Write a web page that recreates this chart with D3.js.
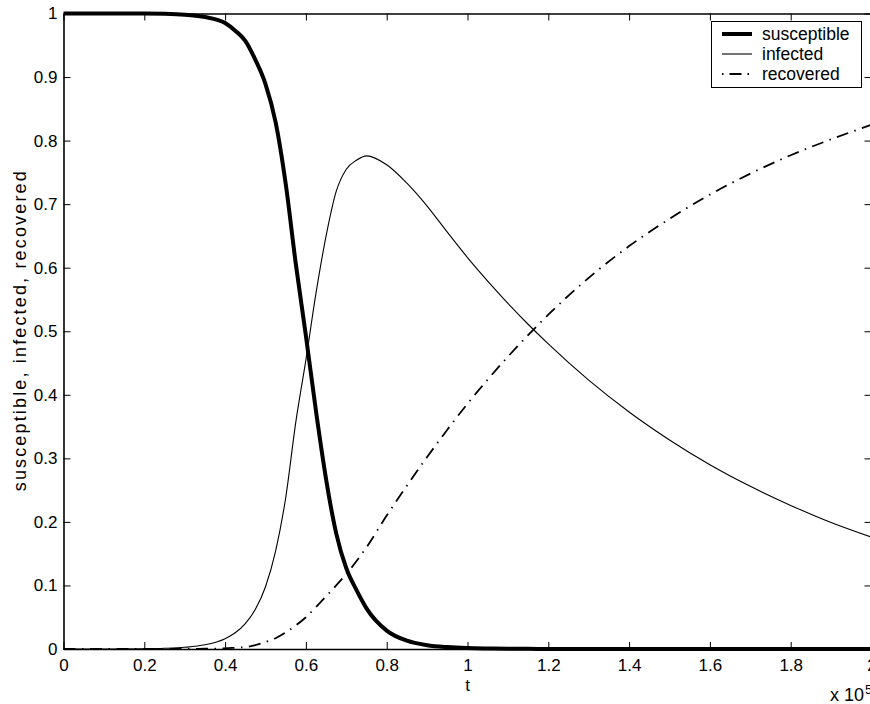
<!DOCTYPE html>
<html>
<head>
<meta charset="utf-8">
<script src="https://cdn.jsdelivr.net/npm/d3@7"></script>
<style>
  body { margin: 0; background: #fff; }
  svg { display: block; }
  text { font-family: "Liberation Sans", Arial, Helvetica, sans-serif; }
</style>
</head>
<body>
<div class="chart"></div>
<script>

// time axis (units of 1e5)
var tValues = [0, 0.1, 0.2, 0.25, 0.3, 0.35, 0.4, 0.425, 0.45, 0.475, 0.5, 0.525, 0.55, 0.575, 0.6, 0.625,
  0.65, 0.675, 0.7, 0.725, 0.75, 0.8, 0.85, 0.9, 0.95, 1.0, 1.05, 1.1, 1.15, 1.2,
  1.3, 1.4, 1.5, 1.6, 1.7, 1.8, 1.9, 2.0];

var susceptible = [1, 1, 1, 0.9995, 0.998, 0.9945, 0.985, 0.973, 0.957, 0.927, 0.889, 0.829, 0.732, 0.606, 0.493, 0.374,
  0.267, 0.182, 0.127, 0.093, 0.064, 0.029, 0.013, 0.006, 0.003, 0.0015, 0.0008, 0.0004, 0.0002, 0.0001,
  0, 0, 0, 0, 0, 0, 0, 0];

var infected = [0, 0, 0.0004, 0.0011, 0.0027, 0.0066, 0.0163, 0.0255, 0.040, 0.0625, 0.098, 0.154, 0.238, 0.357, 0.455, 0.56,
  0.65, 0.72, 0.755, 0.769, 0.776, 0.762, 0.733, 0.697, 0.656, 0.616, 0.579, 0.544, 0.511, 0.48,
  0.423, 0.373, 0.329, 0.29, 0.256, 0.226, 0.199, 0.176];

var recovered = [0, 0, 0, 0, 0.0001, 0.0004, 0.001, 0.002, 0.003, 0.006, 0.011, 0.017, 0.026, 0.037, 0.050, 0.066,
  0.083, 0.10, 0.118, 0.138, 0.16, 0.21, 0.257, 0.302, 0.345, 0.386, 0.424, 0.46, 0.494, 0.526,
  0.584, 0.634, 0.677, 0.715, 0.748, 0.777, 0.802, 0.825];

var xTicks = [0, 0.2, 0.4, 0.6, 0.8, 1.0, 1.2, 1.4, 1.6, 1.8, 2.0];
var xTickLabels = ["0", "0.2", "0.4", "0.6", "0.8", "1", "1.2", "1.4", "1.6", "1.8", "2"];
var yTicks = [0, 0.1, 0.2, 0.3, 0.4, 0.5, 0.6, 0.7, 0.8, 0.9, 1];
var yTickLabels = ["0", "0.1", "0.2", "0.3", "0.4", "0.5", "0.6", "0.7", "0.8", "0.9", "1"];

var seriesNames = ["susceptible", "infected", "recovered"];

var svgWidth = 870;
var svgHeight = 704;

var plot = { left: 63.5, right: 871.5, top: 13.5, bottom: 649 };

var svg = d3.select(".chart")
  .append("svg")
  .attr("width", svgWidth)
  .attr("height", svgHeight);

var xScale = d3.scaleLinear()
  .domain([0, 2e5])
  .range([plot.left, plot.right]);

var yScale = d3.scaleLinear()
  .domain([0, 1])
  .range([plot.bottom, plot.top]);

// build rows for each series
var rows = tValues.map(function(t, i) {
  return { t: t * 1e5, s: susceptible[i], i: infected[i], r: recovered[i] };
});

var styles = {
  susceptible: { key: "s", width: 4, dash: null },
  infected: { key: "i", width: 1.1, dash: null },
  recovered: { key: "r", width: 1.8, dash: "12,6.5,1.5,6.5" }
};

var curves = svg.append("g");

seriesNames.forEach(function(name) {
  var st = styles[name];
  var line = d3.line()
    .x(d => xScale(d.t))
    .y(d => yScale(d[st.key]))
    .curve(d3.curveMonotoneX);

  curves.append("path")
    .datum(rows)
    .attr("d", line)
    .attr("fill", "none")
    .attr("stroke", "#000")
    .attr("stroke-width", st.width)
    .attr("stroke-dasharray", st.dash);
});

// axes: ticks point inward on all four sides
function styleAxis(g) {
  g.select(".domain").attr("stroke", "#000").attr("stroke-width", 1.6);
  g.selectAll(".tick line").attr("stroke", "#000").attr("stroke-width", 1);
  g.selectAll(".tick text")
    .attr("fill", "#000")
    .style("font-size", "17px")
    .style("font-family", "'Liberation Sans', Arial, sans-serif");
}

var xAxis = d3.axisBottom(xScale)
  .tickValues(xTicks.map(d => d * 1e5))
  .tickFormat((d, i) => xTickLabels[i])
  .tickSizeInner(-7).tickSizeOuter(0).tickPadding(10);

var yAxis = d3.axisLeft(yScale)
  .tickValues(yTicks)
  .tickFormat((d, i) => yTickLabels[i])
  .tickSizeInner(-7).tickSizeOuter(0).tickPadding(6);

svg.append("g")
  .attr("transform", `translate(0, ${plot.bottom})`)
  .call(xAxis)
  .call(styleAxis);

svg.append("g")
  .attr("transform", `translate(${plot.left}, 0)`)
  .call(yAxis)
  .call(styleAxis);

svg.append("g")
  .attr("transform", `translate(0, ${plot.top})`)
  .call(d3.axisTop(xScale).tickValues(xTicks.map(d => d * 1e5)).tickFormat("")
    .tickSizeInner(-7).tickSizeOuter(0))
  .call(styleAxis);

svg.append("g")
  .attr("transform", `translate(${plot.right}, 0)`)
  .call(d3.axisRight(yScale).tickValues(yTicks).tickFormat("")
    .tickSizeInner(-7).tickSizeOuter(0))
  .call(styleAxis);

// axis labels
svg.append("text")
  .attr("x", (plot.left + plot.right) / 2)
  .attr("y", 691)
  .attr("text-anchor", "middle")
  .style("font-size", "17px")
  .text("t");

svg.append("text")
  .attr("text-anchor", "middle")
  .attr("transform", "translate(26," + ((plot.top + plot.bottom) / 2) + ")rotate(-90)")
  .attr("textLength", 320)
  .attr("lengthAdjust", "spacing")
  .style("font-size", "18px")
  .text("susceptible, infected, recovered");

var expo = svg.append("text")
  .attr("x", 830)
  .attr("y", 701)
  .style("font-size", "18px")
  .text("x 10");
expo.append("tspan")
  .attr("dy", -7)
  .attr("dx", 1)
  .style("font-size", "13px")
  .text("5");

// legend
var legend = svg.append("g").attr("transform", "translate(711.5, 21.5)");

legend.append("rect")
  .attr("width", 150)
  .attr("height", 66)
  .attr("fill", "#fff")
  .attr("stroke", "#000")
  .attr("stroke-width", 1);

var legendDash = { susceptible: null, infected: null, recovered: "1.5,6,12,6" };

seriesNames.forEach(function(name, i) {
  var y = 12.5 + i * 20;
  legend.append("line")
    .attr("x1", 10.5).attr("x2", 40.5)
    .attr("y1", y).attr("y2", y)
    .attr("stroke", "#000")
    .attr("stroke-width", styles[name].width)
    .attr("stroke-dasharray", legendDash[name]);
  legend.append("text")
    .attr("x", 50.5)
    .attr("y", y + 6)
    .style("font-size", "17.5px")
    .text(name);
});

</script>
</body>
</html>
